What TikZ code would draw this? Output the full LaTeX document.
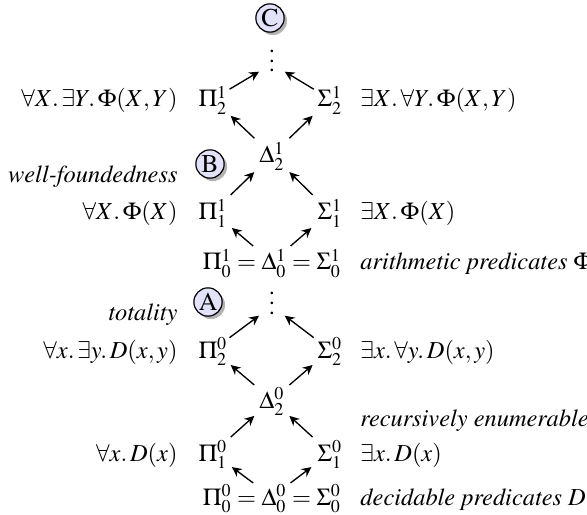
\documentclass[tikz,border=0pt]{standalone}
\usepackage[T1]{fontenc}
\usepackage{mathptmx}
\usetikzlibrary{calc,shadows,arrows.meta}
\definecolor{lav}{RGB}{226,226,250}
\tikzset{
  obj/.style={anchor=base, inner sep=0pt},
  llab/.style={anchor=base east, inner sep=0pt},
  rlab/.style={anchor=base west, inner sep=0pt},
  badge/.style={circle, draw, line width=0.5pt, fill=lav, minimum size=11.6pt, inner sep=0pt,
    font=\fontsize{10.5}{12}\selectfont,
    drop shadow={shadow xshift=1.2pt, shadow yshift=-1.2pt, fill=black!40, opacity=0.75}},
  arr/.style={-{Stealth[length=4pt,width=3.9pt,inset=1.3pt]}, line width=0.55pt}
}
% connector from node #1 to node #2, drawn between fractions #3 and #4 of the line joining their glyph centres
\newcommand\conn[4]{\draw[arr] ($(#1.base)!#3!(#2.base)+(0,-8)$) -- ($(#1.base)!#4!(#2.base)+(0,-8)$);}
\begin{document}
\begin{tikzpicture}[x=0.41pt,y=-0.41pt]
\useasboundingbox (0,0) rectangle (587,515);
% upper hierarchy
\node[badge] (C) at (270,18) {C};
\node[obj] (dt) at (272,72) {$\vdots$};
\node[obj] (p12) at (213,107) {$\Pi^1_2$};
\node[obj] (s12) at (330,107) {$\Sigma^1_2$};
\node[llab] (lp12) at (178,107) {$\forall X.\,\exists Y.\,\Phi(X,Y)$};
\node[rlab] (ls12) at (360,107) {$\exists X.\,\forall Y.\,\Phi(X,Y)$};
\node[obj] (d12) at (272,163) {$\Delta^1_2$};
\node[badge] (B) at (210,164) {B};
\node[llab] (wf) at (178,183) {\textit{well-foundedness}};
\node[obj] (p11) at (213,220) {$\Pi^1_1$};
\node[obj] (s11) at (330,220) {$\Sigma^1_1$};
\node[llab] (lp11) at (178,220) {$\forall X.\,\Phi(X)$};
\node[rlab] (ls11) at (360,220) {$\exists X.\,\Phi(X)$};
\node[obj] (b1) at (272,270) {$\Pi^1_0 = \Delta^1_0 = \Sigma^1_0$};
\node[rlab] (ar) at (360,270) {\textit{arithmetic predicates} $\Phi$};
% lower hierarchy
\node[badge] (A) at (208,302) {A};
\node[llab] (tot) at (178,320) {\textit{totality}};
\node[obj] (dm) at (272,314) {$\vdots$};
\node[obj] (p02) at (213,358) {$\Pi^0_2$};
\node[obj] (s02) at (330,358) {$\Sigma^0_2$};
\node[llab] (lp02) at (178,358) {$\forall x.\,\exists y.\,D(x,y)$};
\node[rlab] (ls02) at (360,358) {$\exists x.\,\forall y.\,D(x,y)$};
\node[obj] (d02) at (272,408) {$\Delta^0_2$};
\node[rlab] (re) at (360,426) {\textit{recursively enumerable}};
\node[obj] (p01) at (213,461) {$\Pi^0_1$};
\node[obj] (s01) at (330,461) {$\Sigma^0_1$};
\node[llab] (lp01) at (178,461) {$\forall x.\,D(x)$};
\node[rlab] (ls01) at (360,461) {$\exists x.\,D(x)$};
\node[obj] (b0) at (272,505) {$\Pi^0_0 = \Delta^0_0 = \Sigma^0_0$};
\node[rlab] (dec) at (360,505) {\textit{decidable predicates} $D$};
% connectors
\conn{b0}{p01}{0.32}{0.68}
\conn{b0}{s01}{0.32}{0.68}
\conn{p01}{d02}{0.30}{0.70}
\conn{s01}{d02}{0.30}{0.70}
\conn{d02}{p02}{0.30}{0.70}
\conn{d02}{s02}{0.30}{0.70}
\conn{p02}{dm}{0.28}{0.78}
\conn{s02}{dm}{0.28}{0.78}
\conn{b1}{p11}{0.32}{0.68}
\conn{b1}{s11}{0.32}{0.68}
\conn{p11}{d12}{0.30}{0.70}
\conn{s11}{d12}{0.30}{0.70}
\conn{d12}{p12}{0.30}{0.70}
\conn{d12}{s12}{0.30}{0.70}
\conn{p12}{dt}{0.28}{0.78}
\conn{s12}{dt}{0.28}{0.78}
\end{tikzpicture}
\end{document}
